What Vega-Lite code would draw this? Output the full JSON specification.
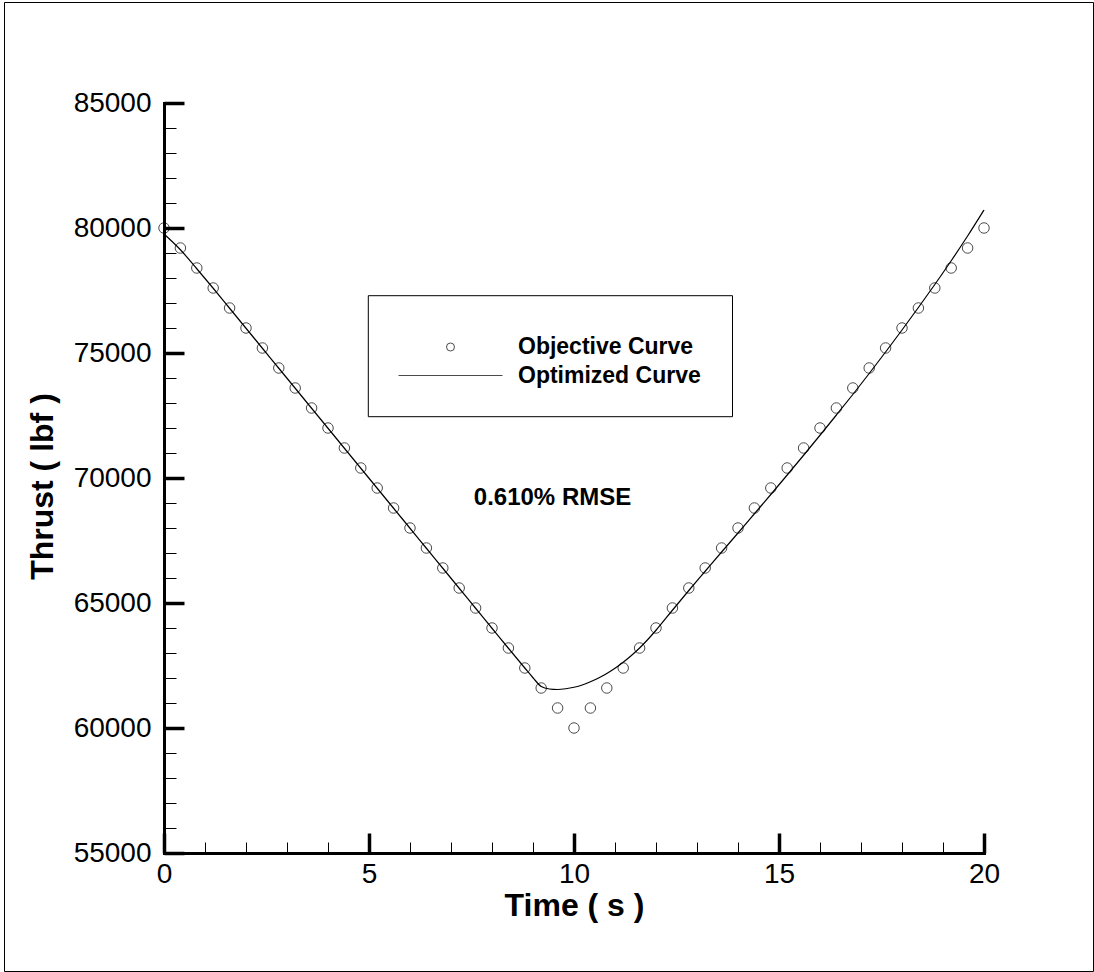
{
  "$schema": "https://vega.github.io/schema/vega-lite/v6.json",
  "width": 820,
  "height": 750,
  "autosize": {"type": "none"},
  "padding": {"left": 164, "top": 103, "right": 110, "bottom": 119},
  "background": "white",
  "config": {
    "view": {"stroke": null},
    "font": "Liberation Sans",
    "axis": {
      "grid": false,
      "labelColor": "black",
      "titleColor": "black",
      "tickColor": "black",
      "domainColor": "black",
      "labelFont": "Liberation Sans",
      "titleFont": "Liberation Sans",
      "labelFlush": false,
      "labelOverlap": false
    }
  },
  "datasets": {
    "objective": [
      {"t": 0, "thrust": 80000, "series": "Objective Curve"},
      {"t": 0.4, "thrust": 79200, "series": "Objective Curve"},
      {"t": 0.8, "thrust": 78400, "series": "Objective Curve"},
      {"t": 1.2, "thrust": 77600, "series": "Objective Curve"},
      {"t": 1.6, "thrust": 76800, "series": "Objective Curve"},
      {"t": 2.0, "thrust": 76000, "series": "Objective Curve"},
      {"t": 2.4, "thrust": 75200, "series": "Objective Curve"},
      {"t": 2.8, "thrust": 74400, "series": "Objective Curve"},
      {"t": 3.2, "thrust": 73600, "series": "Objective Curve"},
      {"t": 3.6, "thrust": 72800, "series": "Objective Curve"},
      {"t": 4.0, "thrust": 72000, "series": "Objective Curve"},
      {"t": 4.4, "thrust": 71200, "series": "Objective Curve"},
      {"t": 4.8, "thrust": 70400, "series": "Objective Curve"},
      {"t": 5.2, "thrust": 69600, "series": "Objective Curve"},
      {"t": 5.6, "thrust": 68800, "series": "Objective Curve"},
      {"t": 6.0, "thrust": 68000, "series": "Objective Curve"},
      {"t": 6.4, "thrust": 67200, "series": "Objective Curve"},
      {"t": 6.8, "thrust": 66400, "series": "Objective Curve"},
      {"t": 7.2, "thrust": 65600, "series": "Objective Curve"},
      {"t": 7.6, "thrust": 64800, "series": "Objective Curve"},
      {"t": 8.0, "thrust": 64000, "series": "Objective Curve"},
      {"t": 8.4, "thrust": 63200, "series": "Objective Curve"},
      {"t": 8.8, "thrust": 62400, "series": "Objective Curve"},
      {"t": 9.2, "thrust": 61600, "series": "Objective Curve"},
      {"t": 9.6, "thrust": 60800, "series": "Objective Curve"},
      {"t": 10.0, "thrust": 60000, "series": "Objective Curve"},
      {"t": 10.4, "thrust": 60800, "series": "Objective Curve"},
      {"t": 10.8, "thrust": 61600, "series": "Objective Curve"},
      {"t": 11.2, "thrust": 62400, "series": "Objective Curve"},
      {"t": 11.6, "thrust": 63200, "series": "Objective Curve"},
      {"t": 12.0, "thrust": 64000, "series": "Objective Curve"},
      {"t": 12.4, "thrust": 64800, "series": "Objective Curve"},
      {"t": 12.8, "thrust": 65600, "series": "Objective Curve"},
      {"t": 13.2, "thrust": 66400, "series": "Objective Curve"},
      {"t": 13.6, "thrust": 67200, "series": "Objective Curve"},
      {"t": 14.0, "thrust": 68000, "series": "Objective Curve"},
      {"t": 14.4, "thrust": 68800, "series": "Objective Curve"},
      {"t": 14.8, "thrust": 69600, "series": "Objective Curve"},
      {"t": 15.2, "thrust": 70400, "series": "Objective Curve"},
      {"t": 15.6, "thrust": 71200, "series": "Objective Curve"},
      {"t": 16.0, "thrust": 72000, "series": "Objective Curve"},
      {"t": 16.4, "thrust": 72800, "series": "Objective Curve"},
      {"t": 16.8, "thrust": 73600, "series": "Objective Curve"},
      {"t": 17.2, "thrust": 74400, "series": "Objective Curve"},
      {"t": 17.6, "thrust": 75200, "series": "Objective Curve"},
      {"t": 18.0, "thrust": 76000, "series": "Objective Curve"},
      {"t": 18.4, "thrust": 76800, "series": "Objective Curve"},
      {"t": 18.8, "thrust": 77600, "series": "Objective Curve"},
      {"t": 19.2, "thrust": 78400, "series": "Objective Curve"},
      {"t": 19.6, "thrust": 79200, "series": "Objective Curve"},
      {"t": 20.0, "thrust": 80000, "series": "Objective Curve"}
    ],
    "optimized": [
      {"t": 0, "thrust": 79760},
      {"t": 0.4, "thrust": 79130},
      {"t": 0.8, "thrust": 78370},
      {"t": 1.2, "thrust": 77590},
      {"t": 1.6, "thrust": 76790},
      {"t": 2.0, "thrust": 75990},
      {"t": 2.4, "thrust": 75190},
      {"t": 2.8, "thrust": 74390},
      {"t": 3.2, "thrust": 73590},
      {"t": 3.6, "thrust": 72790},
      {"t": 4.0, "thrust": 71990},
      {"t": 4.4, "thrust": 71190},
      {"t": 4.8, "thrust": 70390},
      {"t": 5.2, "thrust": 69590},
      {"t": 5.6, "thrust": 68790},
      {"t": 6.0, "thrust": 67990},
      {"t": 6.4, "thrust": 67190},
      {"t": 6.8, "thrust": 66390},
      {"t": 7.2, "thrust": 65590},
      {"t": 7.6, "thrust": 64790},
      {"t": 8.0, "thrust": 63990},
      {"t": 8.4, "thrust": 63190},
      {"t": 8.8, "thrust": 62400},
      {"t": 9.0, "thrust": 62010},
      {"t": 9.2, "thrust": 61660},
      {"t": 9.4, "thrust": 61560},
      {"t": 9.6, "thrust": 61540},
      {"t": 9.8, "thrust": 61570},
      {"t": 10.0, "thrust": 61630},
      {"t": 10.2, "thrust": 61720},
      {"t": 10.4, "thrust": 61850},
      {"t": 10.6, "thrust": 62000},
      {"t": 10.8, "thrust": 62180},
      {"t": 11.0, "thrust": 62390},
      {"t": 11.2, "thrust": 62630},
      {"t": 11.4, "thrust": 62900},
      {"t": 11.6, "thrust": 63200},
      {"t": 11.8, "thrust": 63540},
      {"t": 12.0, "thrust": 63910},
      {"t": 12.4, "thrust": 64710},
      {"t": 12.8, "thrust": 65500},
      {"t": 13.2, "thrust": 66270},
      {"t": 13.6, "thrust": 67040},
      {"t": 14.0, "thrust": 67800},
      {"t": 14.4, "thrust": 68570},
      {"t": 14.8, "thrust": 69340},
      {"t": 15.2, "thrust": 70120},
      {"t": 15.6, "thrust": 70910},
      {"t": 16.0, "thrust": 71710},
      {"t": 16.4, "thrust": 72520},
      {"t": 16.8, "thrust": 73340},
      {"t": 17.2, "thrust": 74180},
      {"t": 17.6, "thrust": 75040},
      {"t": 18.0, "thrust": 75920},
      {"t": 18.4, "thrust": 76820},
      {"t": 18.8, "thrust": 77740},
      {"t": 19.2, "thrust": 78690},
      {"t": 19.6, "thrust": 79680},
      {"t": 20.0, "thrust": 80720}
    ]
  },
  "resolve": {"axis": {"x": "independent", "y": "independent"}},
  "layer": [
    {
      "data": {"values": [{}]},
      "mark": {"type": "rect", "fill": "white", "fillOpacity": 0, "stroke": "black", "strokeWidth": 1, "clip": false},
      "encoding": {
        "x": {"datum": -3.89, "type": "quantitative", "axis": null, "scale": {"domain": [0, 20], "nice": false, "zero": false}},
        "x2": {"datum": 22.671},
        "y": {"datum": 89020, "type": "quantitative", "axis": null, "scale": {"domain": [55000, 85000], "nice": false, "zero": false}},
        "y2": {"datum": 50260}
      }
    },
    {
      "data": {"values": [{}]},
      "mark": {"type": "rect", "fill": "white", "fillOpacity": 0, "stroke": "black", "strokeWidth": 1},
      "encoding": {
        "x": {"datum": 4.983, "type": "quantitative", "axis": null},
        "x2": {"datum": 13.866},
        "y": {"datum": 77292, "type": "quantitative", "axis": null},
        "y2": {"datum": 72452}
      }
    },
    {
      "data": {"name": "optimized"},
      "mark": {"type": "line", "color": "black", "strokeWidth": 1.2, "interpolate": "monotone"},
      "encoding": {
        "x": {
          "field": "t", "type": "quantitative",
          "axis": {"orient": "bottom", "values": [1, 2, 3, 4, 6, 7, 8, 9, 11, 12, 13, 14, 16, 17, 18, 19], "labels": false, "domain": false, "ticks": true, "tickSize": -11, "tickWidth": 1, "title": null}
        },
        "y": {
          "field": "thrust", "type": "quantitative",
          "axis": {"orient": "left", "values": [56000, 57000, 58000, 59000, 61000, 62000, 63000, 64000, 66000, 67000, 68000, 69000, 71000, 72000, 73000, 74000, 76000, 77000, 78000, 79000, 81000, 82000, 83000, 84000], "labels": false, "domain": false, "ticks": true, "tickSize": -12, "tickWidth": 1, "title": null}
        }
      }
    },
    {
      "data": {"name": "objective"},
      "mark": {"type": "point", "filled": false, "color": "black", "size": 110, "strokeWidth": 1},
      "encoding": {
        "x": {
          "field": "t", "type": "quantitative",
          "axis": {"orient": "bottom", "values": [0, 5, 10, 15, 20], "format": "d", "ticks": false, "domain": true, "domainWidth": 3, "domainCap": "square", "labelFontSize": 28, "labelPadding": 7, "title": "Time ( s )", "titleFontSize": 32, "titleFontWeight": "bold", "titlePadding": 2}
        },
        "y": {
          "field": "thrust", "type": "quantitative",
          "axis": {"orient": "left", "values": [55000, 60000, 65000, 70000, 75000, 80000, 85000], "format": "d", "ticks": false, "domain": true, "domainWidth": 3, "domainCap": "square", "labelFontSize": 28, "labelPadding": 13, "title": "Thrust ( lbf )", "titleFontSize": 32, "titleFontWeight": "bold", "titlePadding": 14, "titleY": 383}
        },
        "shape": {
          "field": "series", "type": "nominal",
          "scale": {"domain": ["Objective Curve", "Optimized Curve"], "range": ["circle", "M-13,0L13,0"]},
          "legend": {
            "orient": "none", "legendX": 223, "legendY": 231, "title": null, "padding": 0,
            "symbolSize": 64, "symbolOffset": 52, "symbolStrokeWidth": 1, "symbolStrokeColor": "black", "symbolFillColor": "transparent",
            "labelOffset": 56, "labelFont": "Liberation Sans", "labelFontWeight": "bold", "labelFontSize": 23, "labelColor": "black", "labelLimit": 400,
            "clipHeight": 26, "rowPadding": 2.5,
            "encode": {"symbols": {"update": {"fill": {"value": "transparent"}, "stroke": {"value": "black"}, "strokeWidth": {"value": 1}}}}
          }
        }
      }
    },
    {
      "data": {"values": [{}]},
      "mark": {"type": "text", "text": "0.610% RMSE", "font": "Liberation Sans", "fontWeight": "bold", "fontSize": 24, "align": "center", "baseline": "middle", "color": "black"},
      "encoding": {
        "x": {
          "datum": 9.476, "type": "quantitative",
          "axis": {"orient": "bottom", "values": [0, 5, 10, 15, 20], "labels": false, "domain": false, "ticks": true, "tickSize": -20, "tickWidth": 3.5, "title": null}
        },
        "y": {
          "datum": 69200, "type": "quantitative",
          "axis": {"orient": "left", "values": [55000, 60000, 65000, 70000, 75000, 80000, 85000], "labels": false, "domain": false, "ticks": true, "tickSize": -20, "tickWidth": 3.5, "title": null}
        }
      }
    }
  ]
}
